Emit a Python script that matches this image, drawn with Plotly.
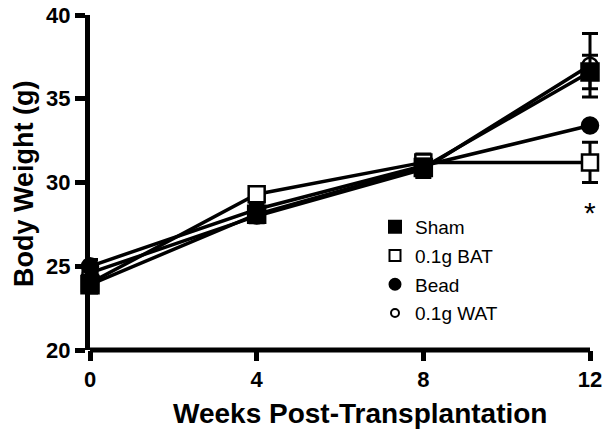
import plotly.graph_objects as go

weeks = [0, 4, 8, 12]
names = ["Sham", "0.1g BAT", "Bead", "0.1g WAT"]
sham = [23.9, 28.1, 30.9, 36.6]
sham_err = [0.5, 0.4, 0.5, 1.0]
bat = [24.0, 29.3, 31.2, 31.2]
bat_err = [0.4, 0.4, 0.5, 1.2]
bead = [25.0, 28.4, 31.0, 33.4]
bead_err = [0.4, 0.4, 0.4, 0.0]
wat = [24.6, 28.0, 30.8, 37.0]
wat_err = [0.4, 0.4, 0.5, 1.9]
sig_week = 12
sig_y = 28.2

styles = {
    "Sham": ("square", "black", 17),
    "0.1g BAT": ("square", "white", 16),
    "Bead": ("circle", "black", 16),
    "0.1g WAT": ("circle", "white", 15),
}
legend_styles = {
    "Sham": ("square", "black", 12),
    "0.1g BAT": ("square", "white", 11),
    "Bead": ("circle", "black", 11),
    "0.1g WAT": ("circle", "white", 8),
}
data = {"Sham": (sham, sham_err), "0.1g BAT": (bat, bat_err),
        "Bead": (bead, bead_err), "0.1g WAT": (wat, wat_err)}

fig = go.Figure()
for nm in ["0.1g WAT", "Bead", "0.1g BAT", "Sham"]:
    vals, err = data[nm]
    sym, fill, sz = styles[nm]
    fig.add_trace(go.Scatter(
        x=weeks, y=vals, mode="lines+markers", showlegend=False, cliponaxis=False,
        line=dict(color="black", width=3.5),
        marker=dict(symbol=sym, size=sz, color=fill, line=dict(color="black", width=2.5)),
        error_y=dict(type="data", array=err, color="black", thickness=3, width=8),
    ))

for i, nm in enumerate(names):
    sym, fill, sz = legend_styles[nm]
    fig.add_trace(go.Scatter(
        x=[None], y=[None], mode="markers", name=nm, legendgroup=str(i),
        marker=dict(symbol=sym, size=sz, color=fill, line=dict(color="black", width=2)),
    ))

fig.add_annotation(x=sig_week, y=sig_y, text="*", showarrow=False,
                   font=dict(size=30, color="black", family="Liberation Sans"))

# x axis line only from first to last week
fig.add_shape(type="line", xref="x", yref="paper", x0=weeks[0], x1=weeks[-1], y0=0, y1=0,
              line=dict(color="black", width=5), layer="above")

fig.add_annotation(xref="paper", yref="paper", x=(360 - 90) / 515, y=-(413 - 350) / 335,
                   text="<b>Weeks Post-Transplantation</b>", showarrow=False,
                   font=dict(size=28, family="Liberation Sans", color="black"),
                   xanchor="center", yanchor="middle")
fig.add_annotation(xref="paper", yref="paper", x=-(90 - 24) / 515, y=(350 - 184) / 335,
                   text="<b>Body Weight (g)</b>", showarrow=False, textangle=-90,
                   font=dict(size=27, family="Liberation Sans", color="black"),
                   xanchor="center", yanchor="middle")

axis_common = dict(showgrid=False, zeroline=False, linecolor="black", linewidth=5,
                   ticks="outside", ticklen=10, tickwidth=5, tickcolor="black", automargin=False,
                   tickfont=dict(size=22, family="Liberation Sans", weight="bold", color="black"))

# plot area spans 515 px so that week 12 sits at 500 px from the y axis
fig.update_layout(
    width=605, height=431,
    margin=dict(l=90, r=0, t=15, b=81),
    paper_bgcolor="white", plot_bgcolor="white",
    font=dict(family="Liberation Sans, Arial, sans-serif", color="black"),
    legend=dict(x=(375 - 90) / 515, y=(350 - 208) / 335, xanchor="left", yanchor="top",
                font=dict(size=19, family="Liberation Sans", color="black"),
                bgcolor="rgba(0,0,0,0)", traceorder="grouped", tracegroupgap=1),
    xaxis=dict(range=[0, 12 * 515 / 500], tickvals=weeks, ticktext=[str(w) for w in weeks],
               showline=False, **axis_common),
    yaxis=dict(range=[20, 40], tickvals=[20, 25, 30, 35, 40], showline=True, **axis_common),
)

fig.write_html("out.html", config={"displayModeBar": False},
               post_script="document.body.style.margin='0';")
